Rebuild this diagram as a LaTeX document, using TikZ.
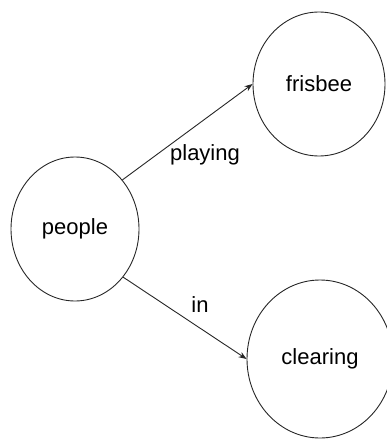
\documentclass[tikz,border=0pt]{standalone}
\usepackage{fontspec}
\setmainfont{Liberation Sans}
\usetikzlibrary{arrows.meta,shapes.geometric}
\begin{document}
\begin{tikzpicture}[x=1pt,y=-1pt,
  ell/.style={ellipse,draw=black!85,line width=0.9pt,inner sep=0pt,font=\fontsize{22}{26}\selectfont},
  lbl/.style={font=\fontsize{22}{26}\selectfont,inner sep=0pt},
  conn/.style={draw=black!85,line width=0.9pt,-{Stealth[length=8pt,width=6pt]}}]
\useasboundingbox (0,0) rectangle (386,439);
\node[ell,minimum width=128pt,minimum height=144pt] (people) at (75,229) {people};
\node[ell,minimum width=132pt,minimum height=144pt] (frisbee) at (319,84) {frisbee};
\node[ell,minimum width=146pt,minimum height=158pt] (clearing) at (320,359) {clearing};
\draw[conn] (people.46) -- (frisbee.west);
\draw[conn] (people.-45) -- (clearing.west);
\node[lbl] (playing) at (205,155) {playing};
\node[lbl] (in) at (200,305) {in};
\end{tikzpicture}
\end{document}
